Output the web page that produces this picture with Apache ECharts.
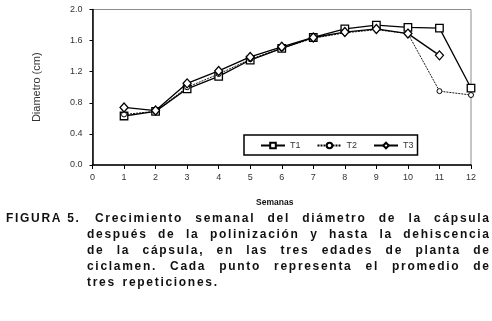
<!DOCTYPE html>
<html><head><meta charset="utf-8">
<script src="https://cdn.jsdelivr.net/npm/echarts@6/dist/echarts.min.js"></script>
<style>html,body{margin:0;padding:0;background:#fff}#c{width:492px;height:321px}</style>
</head><body><div id="c"></div>
<script>
const weeks = [1,2,3,4,5,6,7,8,9,10,11,12];
const t1 = [0.63,0.69,0.98,1.14,1.35,1.50,1.64,1.75,1.80,1.77,1.76,0.99];
const t2 = [0.65,0.69,1.00,1.17,1.36,1.50,1.63,1.70,1.74,1.69,0.95,0.90];
const t3 = [0.74,0.70,1.05,1.21,1.39,1.52,1.64,1.71,1.75,1.69,1.41];
const seriesNames = ['T1','T2','T3'];
const captionLabel = 'FIGURA 5.';
const captionLines = [
  'Crecimiento semanal del diámetro de la cápsula',
  'después de la polinización y hasta la dehiscencia',
  'de la cápsula, en las tres edades de planta de',
  'ciclamen. Cada punto representa el promedio de',
  'tres repeticiones.'
];

const FONT_FAMILY = '"Liberation Sans", Arial, sans-serif';
const CAP_FAMILY = 'Helvetica, Arial, sans-serif';   // caption only: drawn letter-spaced
const CAP_SIZE = 12;
const LS = 1.7;

// draw caption text with letter spacing (typographic spacing of the printed caption)
const origFill = CanvasRenderingContext2D.prototype.fillText;
CanvasRenderingContext2D.prototype.fillText = function(t, x, y, mw){
  const s = String(t);
  if (this.font && this.font.indexOf('Helvetica') >= 0 && s.length > 1) {
    const align = this.textAlign;
    this.textAlign = 'left';
    let cx = x;
    for (const ch of s) { origFill.call(this, ch, cx, y); cx += this.measureText(ch).width + LS; }
    this.textAlign = align;
    return;
  }
  return origFill.call(this, t, x, y, mw);
};

const mctx = document.createElement('canvas').getContext('2d');
mctx.font = 'bold ' + CAP_SIZE + 'px ' + CAP_FAMILY;
function tw(s){ let w = 0; for (const ch of s) w += mctx.measureText(ch).width; return w + LS*(s.length-1); }

const graphics = [];
function addText(txt, x, y){
  graphics.push({type:'text', x:x, y:y, style:{text:txt, fontSize:CAP_SIZE, fontWeight:'bold', fontFamily:CAP_FAMILY, fill:'#111', verticalAlign:'middle', align:'left'}});
}
const lineY0 = 219, lineStep = 16, rightEdge = 489;
addText(captionLabel, 6, lineY0);
captionLines.forEach((ln, i) => {
  const xs = i === 0 ? 95 : 87;
  const y = lineY0 + i*lineStep;
  const words = ln.split(' ');
  if (i === captionLines.length - 1) {
    let x = xs; const sp = mctx.measureText(' ').width + 3*LS;
    words.forEach(w => { addText(w, x, y); x += tw(w) + sp; });
  } else {
    const total = words.reduce((a,w)=>a+tw(w),0);
    const gap = (rightEdge - xs - total)/(words.length-1);
    let x = xs;
    words.forEach(w => { addText(w, x, y); x += tw(w) + gap; });
  }
});

const chart = echarts.init(document.getElementById('c'), null, {renderer:'canvas'});
const axisLbl = {color:'#333', fontSize:9, fontFamily:FONT_FAMILY};
chart.setOption({
  animation:false,
  backgroundColor:'#fff',
  grid:{left:92.5, right:21, top:9.5, bottom:156, show:true, borderColor:'#8c8c8c', borderWidth:1, backgroundColor:'transparent'},
  legend:{
    data:seriesNames, left:244, top:135, orient:'horizontal',
    padding:[6,4,5,16], itemGap:16, itemWidth:24, itemHeight:7,
    borderColor:'#000', borderWidth:1.5, backgroundColor:'#fff',
    textStyle:{color:'#333', fontSize:9, fontFamily:FONT_FAMILY}
  },
  xAxis:{
    type:'value', min:0, max:12, interval:1,
    name:'Semanas', nameLocation:'middle', nameGap:33,
    nameTextStyle:{fontSize:8.5, fontWeight:'bold', color:'#111', fontFamily:FONT_FAMILY, padding:[0,14,0,0]},
    axisLine:{lineStyle:{color:'#000', width:1.5}},
    axisTick:{show:true, length:4, lineStyle:{color:'#000', width:1}},
    axisLabel:Object.assign({margin:8}, axisLbl),
    splitLine:{show:false}
  },
  yAxis:{
    type:'value', min:0, max:2, interval:0.4,
    name:'Diametro (cm)', nameLocation:'middle', nameGap:50, nameRotate:90,
    nameTextStyle:{fontSize:11, color:'#333', fontFamily:FONT_FAMILY},
    axisLine:{show:true, lineStyle:{color:'#000', width:1.5}},
    axisTick:{show:true, length:3, lineStyle:{color:'#000', width:1}},
    axisLabel:Object.assign({margin:10, formatter:v=>v.toFixed(1)}, axisLbl),
    splitLine:{show:false}
  },
  series:[
    {name:'T1', type:'line', data:weeks.slice(0,t1.length).map((w,i)=>[w,t1[i]]),
     symbol:'rect', symbolSize:7.5, showAllSymbol:true,
     lineStyle:{color:'#000', width:1.3},
     itemStyle:{color:'#fff', borderColor:'#000', borderWidth:1.3}, z:3},
    {name:'T2', type:'line', data:weeks.slice(0,t2.length).map((w,i)=>[w,t2[i]]),
     symbol:'circle', symbolSize:5, showAllSymbol:true,
     lineStyle:{color:'#000', width:0.9, type:[2,1]},
     itemStyle:{color:'#fff', borderColor:'#000', borderWidth:1}, z:4},
    {name:'T3', type:'line', data:weeks.slice(0,t3.length).map((w,i)=>[w,t3[i]]),
     symbol:'diamond', symbolSize:[8,9], showAllSymbol:true,
     lineStyle:{color:'#000', width:1.3},
     itemStyle:{color:'#fff', borderColor:'#000', borderWidth:1.3}, z:5}
  ],
  graphic:graphics
});
</script></body></html>
